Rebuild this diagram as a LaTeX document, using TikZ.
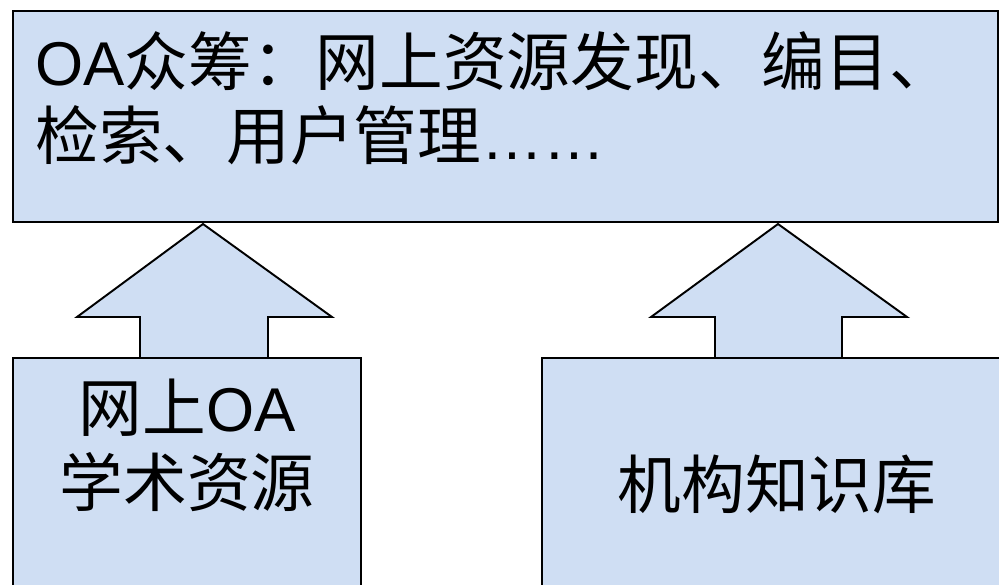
\documentclass[tikz,border=0pt]{standalone}
\usepackage{fontspec}
\setmainfont{Liberation Sans}
\newfontfamily\cjk[Scale=1.03]{Noto Sans CJK SC}
\definecolor{boxblue}{HTML}{CFDEF3}
\tikzset{
    box/.style={draw, line width=1.1pt, fill=boxblue, line join=miter},
    blocktext/.style={inner sep=0pt, font=\fontsize{35.2pt}{42.5pt}\selectfont},
}
\begin{document}
\begin{tikzpicture}[x=0.02cm,y=-0.02cm]
    \useasboundingbox (0,0) rectangle (999,584);
    \clip (0,0) rectangle (999,584);

    % OA platform on top
    \draw[box] (13,11) rectangle (998,222);

    % the two block arrows
    \draw[box] (203,224) -- (332,317) -- (268,317) -- (268,358) -- (140,358) -- (140,317) -- (77,317) -- cycle;
    \draw[box] (778,224) -- (907,317) -- (842,317) -- (842,358) -- (715,358) -- (715,317) -- (651,317) -- cycle;

    % sources below
    \draw[box] (13,358) rectangle (361,610);
    \draw[box] (542,358) rectangle (1010,610);

    \node[blocktext, anchor=north west, align=left] (platform) at (35,31)
        {OA{\cjk 众筹：网上资源发现、编目、}\\{\cjk 检索、用户管理}……};
    \node[blocktext, align=center] (webres) at (187,445) {{\cjk 网上}OA\\{\cjk 学术资源}};
    \node[blocktext] (repo) at (777,484) {\cjk 机构知识库};
\end{tikzpicture}
\end{document}
